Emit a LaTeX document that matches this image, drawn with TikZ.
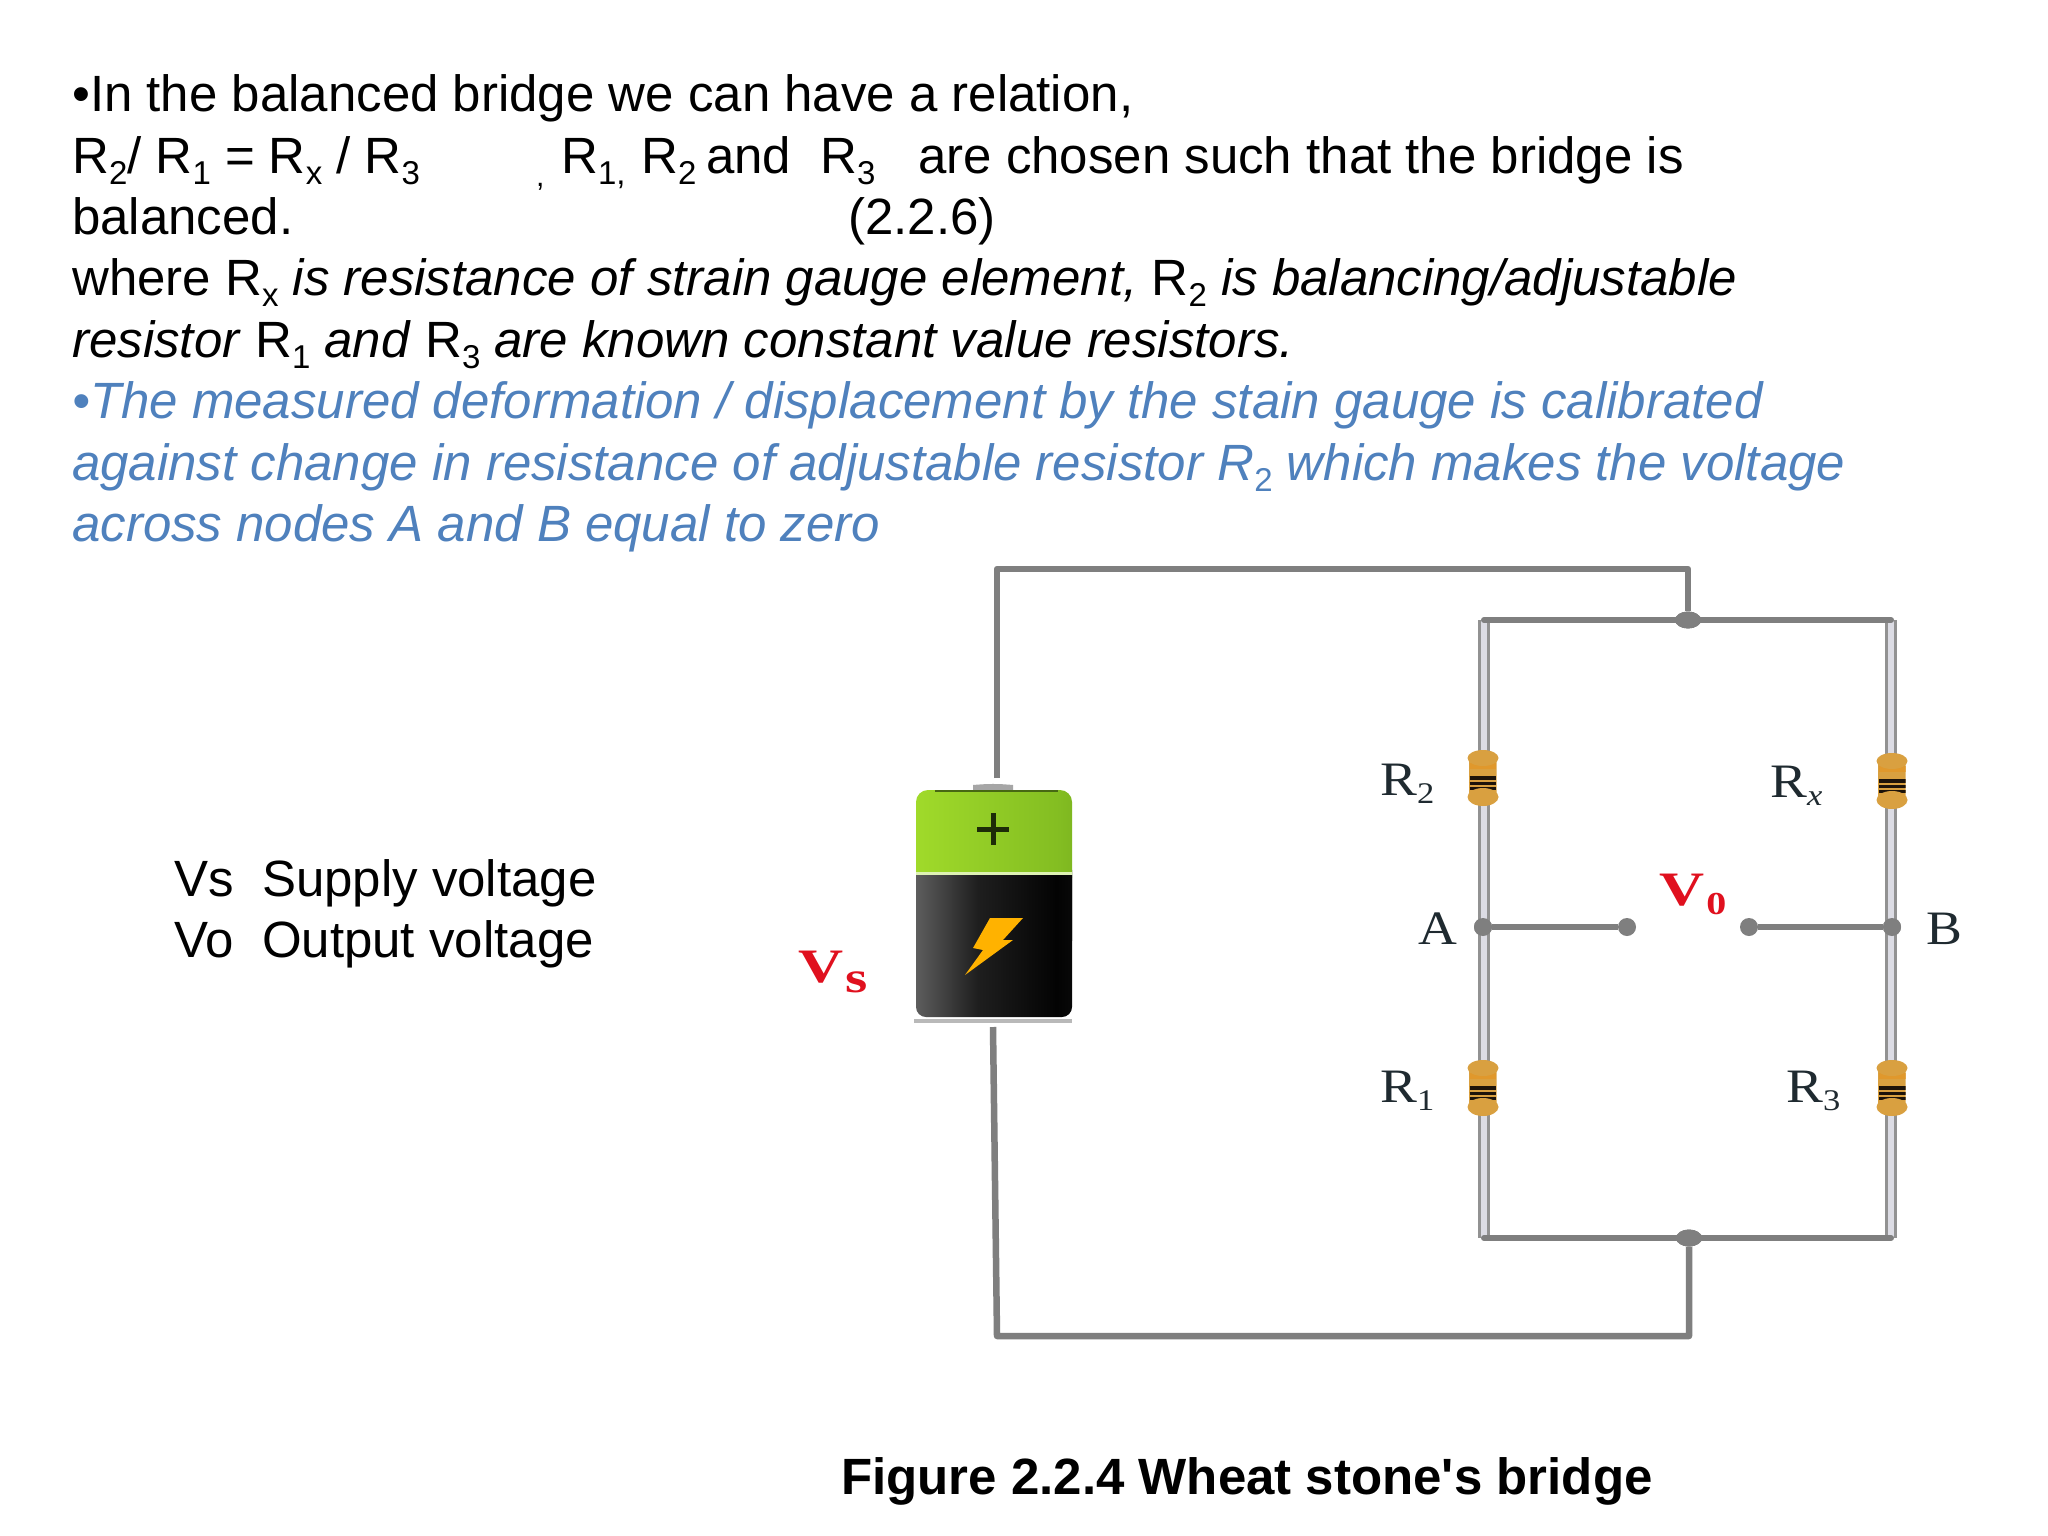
\documentclass[tikz,border=0pt]{standalone}
\usepackage{fontspec}
\setmainfont{Liberation Sans}
\newfontfamily\serifface{Liberation Serif}
\newfontfamily\rawface{Liberation Sans}
\usetikzlibrary{calc,shapes.geometric}
\definecolor{bluetxt}{HTML}{4F81BD}
\definecolor{wiregray}{HTML}{7F7F7F}
\definecolor{railcore}{HTML}{DCDCE4}
\definecolor{labink}{HTML}{1F2A30}
\definecolor{vred}{HTML}{E0101E}
\definecolor{gA}{HTML}{76AE20}
\definecolor{gB}{HTML}{A0DA2A}
\definecolor{gC}{HTML}{84BE22}
\definecolor{gD}{HTML}{64981A}
\definecolor{bA}{HTML}{2A2A2A}
\definecolor{bB}{HTML}{666666}
\definecolor{bC}{HTML}{1E1E1E}
\definecolor{bD}{HTML}{030303}
\definecolor{bE}{HTML}{161616}
\definecolor{bF}{HTML}{404040}
\definecolor{rA}{HTML}{D9A040}
\definecolor{rB}{HTML}{FFDE96}
\definecolor{rC}{HTML}{E0982C}
\pgfdeclarehorizontalshading{greencell}{100bp}{color(0bp)=(gA); color(25bp)=(gB); color(70bp)=(gC); color(100bp)=(gD)}
\pgfdeclarehorizontalshading{blackcell}{100bp}{color(0bp)=(bA); color(22bp)=(bB); color(45bp)=(bC); color(70bp)=(bD); color(90bp)=(bE); color(100bp)=(bF)}
\newcommand{\subs}[1]{\raisebox{-0.22em}{\fontsize{33}{33}\selectfont\upshape #1}}
\newcommand{\wide}[2][1.15]{\scalebox{#1}[1]{#2}}
\newcommand{\cs}[1]{\raisebox{-0.18em}{\fontsize{30}{30}\selectfont #1}}
\tikzset{
  x=1pt,y=-1pt,
  body/.style={anchor=base west,inner sep=0pt,font=\fontsize{51}{61}\selectfont},
  bluebody/.style={body,text=bluetxt,font=\fontsize{51}{61}\selectfont\itshape},
  caption/.style={anchor=base west,inner sep=0pt,font=\fontsize{51}{61}\selectfont\rawface\bfseries},
  circlabel/.style={anchor=base west,inner sep=0pt,text=labink,font=\fontsize{48}{48}\selectfont\serifface},
  redlabel/.style={anchor=base west,inner sep=0pt,text=vred,font=\fontsize{48}{48}\selectfont\serifface\bfseries},
  wire/.style={draw=wiregray,line width=6.5pt,line join=round},
  rail/.style={draw=wiregray!85,double=railcore,double distance=6pt,line width=3pt},
  bar/.style={draw=wiregray,line width=6pt},
  dot/.style={circle,fill=wiregray,inner sep=0pt,minimum size=18pt},
  joint/.style={ellipse,fill=wiregray,inner sep=0pt,minimum width=26pt,minimum height=17pt},
  resist/.style={rectangle,rounded corners=5pt,inner sep=0pt,minimum width=27pt,minimum height=50pt,
    left color=rA,middle color=rB,right color=rA,
    path picture={
      \foreach \o/\c/\w in {-12/rC/6,0/black!85!brown/3.5,5/black!85!brown/3,10/black!85!brown/3}{
        \draw[draw=\c,line width=\w pt] ([yshift=-\o pt]path picture bounding box.west) -- ([yshift=-\o pt]path picture bounding box.east);
      }}},
  rescap/.style={left color=rA,middle color=rB,right color=rA},
  battery/.style={rectangle,inner sep=0pt,minimum width=156pt,minimum height=238pt}
}
\begin{document}
\begin{tikzpicture}
\useasboundingbox (0,0) rectangle (2048,1536);
\fill[white] (0,0) rectangle (2048,1536);
% text
\node[body] (l1) at (72,112) {•In the balanced bridge we can have a relation,};
\node[body] (l2a) at (72,173) {R\subs{2}/ R\subs{1} = R\subs{x} / R\subs{3}};
\node[body,font=\fontsize{30}{30}\selectfont] (l2b) at (536,186) {,};
\node[body] (l2c) at (561,173) {R\subs{1,}};
\node[body] (l2d) at (641,173) {R\subs{2}};
\node[body] (l2e) at (706,173) {and};
\node[body] (l2f) at (820,173) {R\subs{3}};
\node[body] (l2g) at (918,173) {are chosen such that the bridge is};
\node[body] (l3a) at (72,234) {balanced.};
\node[body] (l3b) at (848,234) {(2.2.6)};
\node[body] (l4) at (72,295) {where R\subs{x} \textit{is resistance of strain gauge element,} R\subs{2} \textit{is balancing/adjustable}};
\node[body] (l5) at (72,357) {\textit{resistor} R\subs{1} \textit{and} R\subs{3} \textit{are known constant value resistors.}};
\node[bluebody] (l6) at (72,418) {•The measured deformation / displacement by the stain gauge is calibrated};
\node[bluebody] (l7) at (72,480) {against change in resistance of adjustable resistor R\subs{2} which makes the voltage};
\node[bluebody] (l8) at (72,541) {across nodes A and B equal to zero};
\node[body] (vs) at (174,896) {Vs\ \ Supply voltage};
\node[body] (vo) at (174,957) {Vo\ \ Output voltage};
\node[caption] (cap) at (841,1494) {Figure 2.2.4 Wheat stone's bridge};
% named points
\node[battery] (bat) at (994,902) {};
\coordinate (wt) at (997,778);
\coordinate (wb) at (993,1027);
\coordinate (tl) at (997,569);
\coordinate (tr) at (1688,569);
\coordinate (bl) at (997,1336);
\coordinate (br) at (1689,1336);
\node[joint] (jt) at (1688,620) {};
\node[joint] (jb) at (1689,1238) {};
\coordinate (c1) at (1484,620);
\coordinate (c2) at (1891,620);
\coordinate (c3) at (1484,1238);
\coordinate (c4) at (1891,1238);
\node[dot] (A) at (1483,927) {};
\node[dot] (B) at (1892,927) {};
\node[dot] (ta) at (1627,927) {};
\node[dot] (tb) at (1749,927) {};
% wires
\draw[wire] (wt) -- (tl) -- (tr) -- (jt);
\draw[wire] (wb) -- (bl) -- (br) -- (jb);
\draw[rail] (c1) -- (c3);
\draw[rail] (c2) -- (c4);
\draw[bar,line cap=round] (c1) -- (c2);
\draw[bar,line cap=round] (c3) -- (c4);
\draw[wire,line width=5.5pt] (A) -- (ta);
\draw[wire,line width=5.5pt] (B) -- (tb);
% redraw junctions above rails
\node[dot] at (A) {};
\node[dot] at (B) {};
\node[joint] at (jt) {};
\node[joint] at (jb) {};
% resistors
\node[resist] (r2) at (1483,778) {};
\node[resist] (rx) at (1892,781) {};
\node[resist] (r1) at (1483,1088) {};
\node[resist] (r3) at (1892,1088) {};
\foreach \r in {r2,rx,r1,r3}{
  \shade[rescap] ([yshift=20pt]\r.center) ellipse [x radius=15.5, y radius=8];
  \shade[rescap] ([yshift=-19pt]\r.center) ellipse [x radius=15.5, y radius=9];
}
% battery
\shade[shading=blackcell,rounded corners=10pt] (916,860) rectangle (1072,1017);
\fill[gray!70] (973,790) -- (973,785) to[bend left=5] (1013,785) -- (1013,790) -- cycle;
\shade[shading=greencell,rounded corners=12pt] (916,790) rectangle (1072,890);
\shade[shading=blackcell] (916,875) rectangle (1072,940);
\fill[gA!60!black] (935,790) rectangle (1058,792);
\draw[line width=3pt,draw=gB!35] (916,873) -- (1072,873);
\draw[line width=4pt,draw=gray!55] (914,1021) -- (1072,1021);
\draw[line width=5pt,draw=gA!25!black] (977,829) -- (1009,829) (993,813) -- (993,845);
\fill[orange!60!yellow] (990,918) -- (1023,918) -- (1003,940) -- (1013,940) -- (965,975) -- (983,950) -- (973,948) -- cycle;
% labels
\node[circlabel] (lr2) at (1380,795) {\wide{R\cs{2}}};
\node[circlabel] (lrx) at (1770,797) {\wide{R\cs{\itshape x}}};
\node[circlabel] (lr1) at (1380,1102) {\wide{R\cs{1}}};
\node[circlabel] (lr3) at (1786,1102) {\wide{R\cs{3}}};
\node[circlabel] (la) at (1418,944) {\wide[1.12]{A}};
\node[circlabel] (lb) at (1926,944) {\wide[1.12]{B}};
\node[redlabel] (lvo) at (1659,905) {\wide[1.3]{V}\kern2pt\raisebox{-0.2em}{\fontsize{32}{32}\selectfont\wide[1.25]{0}}};
\node[redlabel] (lvs) at (798,982) {\wide[1.3]{V}\kern2pt\raisebox{-0.22em}{\fontsize{44}{44}\selectfont\wide[1.3]{s}}};
\end{tikzpicture}
\end{document}
